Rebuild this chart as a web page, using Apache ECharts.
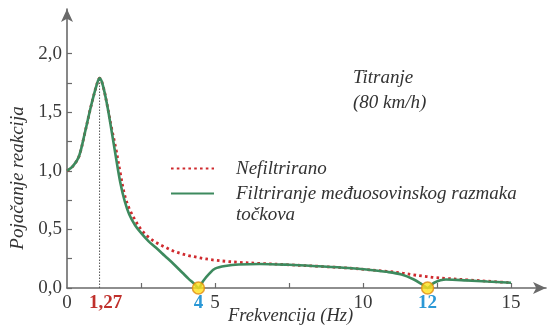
<!DOCTYPE html>
<html><head><meta charset="utf-8">
<script src="https://cdn.jsdelivr.net/npm/echarts@6/dist/echarts.min.js"></script>
<style>html,body{margin:0;padding:0;background:#fff}#c{width:548px;height:329px}</style>
</head><body><div id="c"></div>
<script>
// Frequency (Hz) sample points
const freq = [0, 0.2, 0.4, 0.6, 0.8, 1.0, 1.1, 1.2, 1.35, 1.5, 1.65, 1.8, 1.95, 2.1, 2.3, 2.5, 2.75, 3.0, 3.3, 3.6, 3.9, 4.1, 4.3, 4.44, 4.6, 4.8, 5.0, 5.4, 5.8, 6.5, 7.5, 8.5, 9.5, 10.2, 10.8, 11.3, 11.7, 12.0, 12.18, 12.4, 12.8, 13.5, 14.2, 15.0];
// Nefiltrirano (red dotted)
const unfiltered = [1.00, 1.04, 1.12, 1.32, 1.54, 1.73, 1.79, 1.74, 1.57, 1.37, 1.19, 0.98, 0.79, 0.68, 0.58, 0.50, 0.435, 0.39, 0.35, 0.315, 0.29, 0.277, 0.267, 0.26, 0.252, 0.244, 0.237, 0.227, 0.219, 0.21, 0.198, 0.185, 0.17, 0.155, 0.142, 0.128, 0.112, 0.102, 0.097, 0.09, 0.082, 0.07, 0.058, 0.045];
// Filtriranje međuosovinskog razmaka točkova (green)
const filtered = [1.00, 1.04, 1.12, 1.32, 1.54, 1.73, 1.79, 1.74, 1.57, 1.35, 1.12, 0.90, 0.74, 0.63, 0.535, 0.47, 0.40, 0.345, 0.275, 0.205, 0.13, 0.08, 0.035, 0.0, 0.06, 0.12, 0.165, 0.19, 0.2, 0.205, 0.198, 0.185, 0.17, 0.155, 0.138, 0.115, 0.075, 0.03, 0.0, 0.045, 0.072, 0.065, 0.055, 0.045];
// Axis ticks / labels
const xLabelValues = [0, 5, 10, 15];
const xLabelTexts = ['0', '5', '10', '15'];
const xMinorTicks = [2.5, 5, 7.5, 10, 12.5, 15];
const markFreq = [1.1, 4.44, 12.18];
const markTexts = ['1,27', '4', '12'];
const markStyles = ['r', 'b', 'b'];
const yLabelValues = [0, 0.5, 1.0, 1.5, 2.0];
const yLabelTexts = ['0,0', '0,5', '1,0', '1,5', '2,0'];
const yTicks = [0, 0.25, 0.5, 0.75, 1.0, 1.25, 1.5, 1.75, 2.0];
const peakValue = 1.79;
const zeroPoints = [[4.44, 0], [12.18, 0]];

const nameUnf = 'Nefiltrirano';
const nameFil = 'Filtriranje međuosovinskog razmaka\ntočkova';

const serif = 'Liberation Serif';
const axisColor = '#6a6a6a';
const redC = '#cf2a2e';
const greenC = '#3d8a5e';

const pairs = (xs, ys) => xs.map((x, i) => [x, ys[i]]);

const legendText = {fontFamily: serif, fontStyle: 'italic', fontSize: 19, color: '#333', lineHeight: 21, padding: [0, 0, 0, 17]};

const chart = echarts.init(document.getElementById('c'), null, {renderer: 'canvas'});
chart.setOption({
  animation: false,
  backgroundColor: '#fff',
  grid: {left: 67, right: 2, top: 9, bottom: 41, containLabel: false},
  xAxis: {
    type: 'value', min: 0, max: 16.18,
    axisLine: {show: true, symbol: ['none', 'arrow'], symbolSize: [9, 13],
      lineStyle: {color: axisColor, width: 1.6}},
    axisTick: {show: true, inside: true, length: 5, customValues: xMinorTicks, lineStyle: {color: axisColor, width: 1.2}},
    axisLabel: {
      customValues: xLabelValues.concat(markFreq), margin: 6,
      fontFamily: serif, fontSize: 19, color: '#3a3a3a',
      formatter: function (v) {
        for (let i = 0; i < markFreq.length; i++) if (Math.abs(v - markFreq[i]) < 1e-6) return '{' + markStyles[i] + '|' + markTexts[i] + '}';
        for (let i = 0; i < xLabelValues.length; i++) if (Math.abs(v - xLabelValues[i]) < 1e-6) return xLabelTexts[i];
        return '';
      },
      rich: {
        r: {fontFamily: serif, fontSize: 19, fontWeight: 'bold', color: '#c0302c', padding: [0, 0, 0, 12]},
        b: {fontFamily: serif, fontSize: 19, fontWeight: 'bold', color: '#2a98d6'}
      }
    },
    splitLine: {show: false}
  },
  yAxis: {
    type: 'value', min: 0, max: 2.38,
    axisLine: {show: true, symbol: ['none', 'arrow'], symbolSize: [9, 13],
      lineStyle: {color: axisColor, width: 1.6}},
    axisTick: {show: true, inside: true, length: 5, customValues: yTicks, lineStyle: {color: axisColor, width: 1.2}},
    axisLabel: {
      customValues: yLabelValues, margin: 5,
      fontFamily: serif, fontSize: 19, color: '#3a3a3a',
      formatter: function (v) {
        for (let i = 0; i < yLabelValues.length; i++) if (Math.abs(v - yLabelValues[i]) < 1e-6) return yLabelTexts[i];
        return '';
      }
    },
    splitLine: {show: false}
  },
  legend: [
    {
      data: [nameUnf], left: 170, top: 158, orient: 'vertical', padding: 0,
      itemWidth: 43, itemHeight: 14,
      itemStyle: {opacity: 0},
      textStyle: legendText
    },
    {
      data: [nameFil], left: 170, top: 162, orient: 'vertical', padding: 0,
      itemWidth: 43, itemHeight: 14,
      itemStyle: {opacity: 0},
      formatter: function (n) { return ' \n' + n; },
      textStyle: legendText
    }
  ],
  graphic: [
    {type: 'text', left: 353, top: 65, style: {text: 'Titranje\n(80 km/h)', fontFamily: serif, fontStyle: 'italic', fontSize: 19, lineHeight: 25, fill: '#333'}},
    {type: 'text', left: 228, top: 307, style: {text: 'Frekvencija (Hz)', fontFamily: serif, fontStyle: 'italic', fontSize: 18.5, fill: '#333'}},
    {type: 'text', x: 18, y: 178, rotation: Math.PI / 2, style: {text: 'Pojačanje reakcija', fontFamily: serif, fontStyle: 'italic', fontSize: 19, fill: '#333', align: 'center', verticalAlign: 'middle'}}
  ],
  series: [
    {
      name: 'peakLine', type: 'line', data: [[markFreq[0], 0], [markFreq[0], peakValue]],
      symbol: 'none', silent: true, z: 1,
      lineStyle: {color: '#555', width: 1, type: [1.5, 1.5]}
    },
    {
      name: nameUnf, type: 'line', data: pairs(freq, unfiltered),
      symbol: 'none', smooth: 0.35, clip: false, z: 3,
      lineStyle: {color: redC, width: 2.8, type: [2.6, 3.2], cap: 'butt'},
      itemStyle: {color: redC}
    },
    {
      name: nameFil, type: 'line', data: pairs(freq, filtered),
      symbol: 'none', smooth: 0.35, clip: false, z: 4,
      lineStyle: {color: greenC, width: 2.6},
      itemStyle: {color: greenC}
    },
    {
      name: 'zeros', type: 'scatter', data: zeroPoints, symbol: 'circle', symbolSize: 12, clip: false, z: 6,
      itemStyle: {color: '#ffe11a', borderColor: '#e08a10', borderWidth: 1.5}, silent: true
    }
  ]
});
</script></body></html>
